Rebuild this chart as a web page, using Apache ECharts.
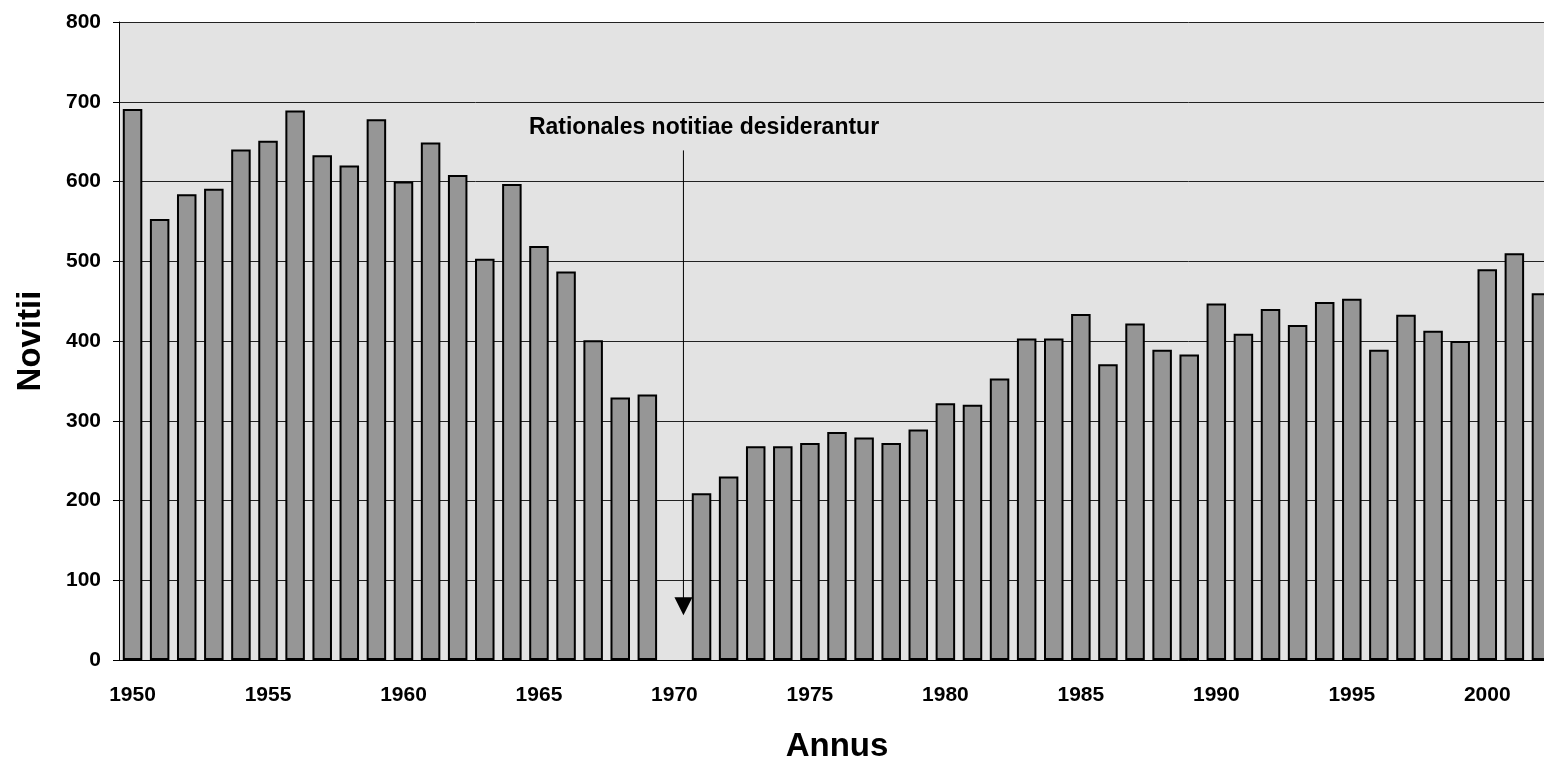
<!DOCTYPE html>
<html>
<head>
<meta charset="utf-8">
<script src="https://cdn.jsdelivr.net/npm/echarts@6/dist/echarts.min.js"></script>
<style>
  html, body { margin: 0; padding: 0; background: #fff; }
  #main { width: 1544px; height: 764px; }
</style>
</head>
<body>
<div id="main"></div>
<script>
// annos 1950 - 2002
const years = [];
for (let y = 1950; y <= 2002; y++) years.push(String(y));

// novitii per annum (1970 sine notitiis)
const novitii = [
  691, 553, 584, 591, 640, 651, 689, 633, 620, 678,
  600, 649, 608, 503, 597, 519, 487, 401, 329, 333,
  null, 209, 230, 268, 268, 272, 286, 279, 272, 289,
  322, 320, 353, 403, 403, 434, 371, 422, 389, 383,
  447, 409, 440, 420, 449, 453, 389, 433, 413, 400,
  490, 510, 460
];

const yTicks = [0, 100, 200, 300, 400, 500, 600, 700, 800];
const noteText = 'Rationales notitiae desiderantur';
const FONT = '"Liberation Sans", Arial, sans-serif';

const chart = echarts.init(document.getElementById('main'));

chart.setOption({
  animation: false,
  backgroundColor: '#fff',
  grid: {
    left: 119, top: 22, width: 1436, height: 638,
    outerBoundsMode: 'none', containLabel: false,
    show: true, backgroundColor: '#e3e3e3', borderWidth: 0
  },
  xAxis: {
    type: 'category',
    data: years,
    name: 'Annus',
    nameLocation: 'middle',
    nameGap: 70,
    nameTextStyle: { fontFamily: FONT, fontWeight: 'bold', fontSize: 33, color: '#000' },
    axisLine: { lineStyle: { color: '#000', width: 1 } },
    axisTick: { interval: 0, length: 7, lineStyle: { color: '#000', width: 1 } },
    axisLabel: {
      interval: 4, margin: 25,
      fontFamily: FONT, fontWeight: 'bold', fontSize: 21, color: '#000'
    },
    splitLine: { show: false }
  },
  yAxis: {
    type: 'value',
    min: yTicks[0], max: yTicks[yTicks.length - 1], interval: 100,
    name: 'Novitii',
    nameLocation: 'middle',
    nameGap: 72,
    nameTextStyle: { fontFamily: FONT, fontWeight: 'bold', fontSize: 33, color: '#000' },
    axisLine: { show: true, lineStyle: { color: '#000', width: 1 } },
    axisTick: { show: true, length: 6, lineStyle: { color: '#000' } },
    axisLabel: { margin: 18, fontFamily: FONT, fontWeight: 'bold', fontSize: 21, color: '#000' },
    splitLine: { show: true, lineStyle: { color: '#222', width: 1 } }
  },
  series: [{
    type: 'bar',
    data: novitii,
    barCategoryGap: '28%',
    itemStyle: { color: '#969696', borderColor: '#000', borderWidth: 2 }
  }]
});

// nota cum sagitta ad annum 1970
const xc = chart.convertToPixel({ xAxisIndex: 0 }, '1970') + 9;
const yTop = chart.convertToPixel({ yAxisIndex: 0 }, 639);
const yTip = chart.convertToPixel({ yAxisIndex: 0 }, 56);
chart.setOption({
  graphic: [
    {
      type: 'text', z: 100,
      position: [704, 128],
      style: {
        text: noteText, x: 0, y: 0, align: 'center', verticalAlign: 'middle',
        font: 'bold 23px ' + FONT, fill: '#000'
      }
    },
    {
      type: 'line', z: 100,
      shape: { x1: xc, y1: yTop, x2: xc, y2: yTip - 10 },
      style: { stroke: '#000', lineWidth: 1 }
    },
    {
      type: 'polygon', z: 100,
      shape: { points: [[xc - 9, yTip - 18], [xc + 9, yTip - 18], [xc, yTip]] },
      style: { fill: '#000' }
    }
  ]
});
</script>
</body>
</html>
